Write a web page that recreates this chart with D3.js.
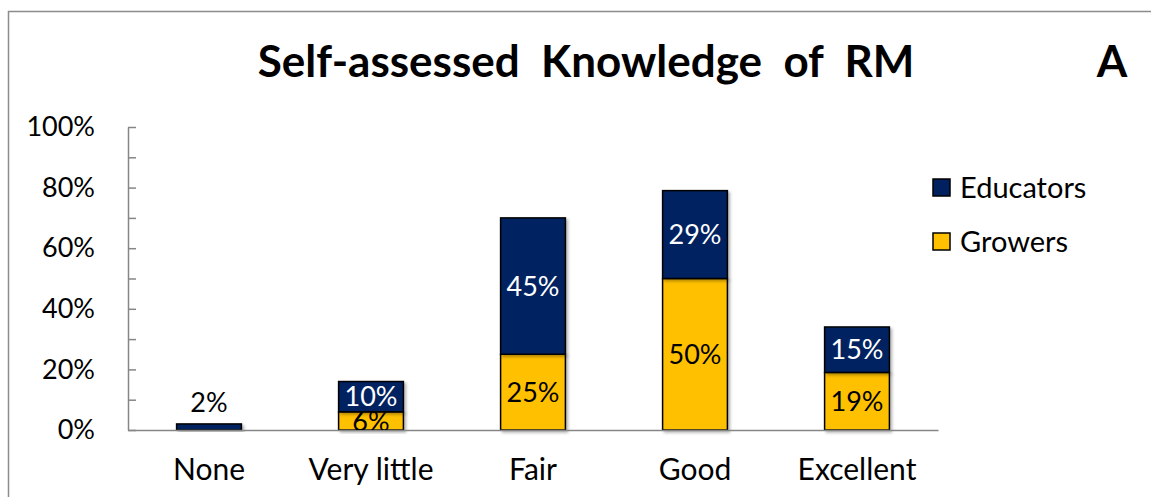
<!DOCTYPE html>
<html>
<head>
<meta charset="utf-8">
<script src="https://cdn.jsdelivr.net/npm/d3@7"></script>
<style>
  body { margin: 0; background: #fff; }
  svg text { font-family: Lato, "Open Sans", sans-serif; }
</style>
</head>
<body>
<div class="render"></div>
<script>
"use strict";

var categories = ["None", "Very little", "Fair", "Good", "Excellent"];
var growers = [0, 0.06, 0.25, 0.50, 0.19];
var educators = [0.02, 0.10, 0.45, 0.29, 0.15];
var seriesNames = ["Educators", "Growers"];
var yTickValues = [0, 0.2, 0.4, 0.6, 0.8, 1.0];
var yTickLabels = ["0%", "20%", "40%", "60%", "80%", "100%"];
var minorTickValues = [0, 0.1, 0.2, 0.3, 0.4, 0.5, 0.6, 0.7, 0.8, 0.9, 1.0];

var w = 1151;
var h = 497;
var navy = "#002060";
var gold = "#FFC000";

var rows = categories.map(function (c, i) {
   return { cat: c, growers: growers[i], educators: educators[i] };
});

var svg = d3.select(".render").append("svg").attr("width", w).attr("height", h);

var defs = svg.append("defs");
var sh = defs.append("filter").attr("id", "shadow").attr("x", "-20%").attr("y", "-20%").attr("width", "140%").attr("height", "140%");
sh.append("feDropShadow").attr("dx", 2).attr("dy", 2).attr("stdDeviation", 1.5).attr("flood-color", "#000").attr("flood-opacity", 0.3);
defs.append("clipPath").attr("id", "plotclip").append("rect").attr("x", 128).attr("y", 100).attr("width", 810).attr("height", 330);

// outer chart border
svg.append("rect").attr("x", 8.5).attr("y", 11.5).attr("width", 1300).attr("height", 700)
   .attr("fill", "none").attr("stroke", "#8c8c8c").attr("stroke-width", 1.5);

var xScale = d3.scaleBand().domain(categories).range([128, 938]).paddingInner(0.6).paddingOuter(0.3);
var yScale = d3.scaleLinear().domain([0, 1]).range([430, 127]);

var stack = d3.stack().keys(["growers", "educators"]);
var layers = stack(rows);
var colors = { growers: gold, educators: navy };
var textColors = { growers: "#000", educators: "#fff" };

// y axis: minor ticks inward, labels at every 20%
svg.append("g").attr("transform", "translate(128,0)")
   .call(d3.axisLeft(yScale).tickValues(minorTickValues).tickSizeInner(-8).tickSizeOuter(0).tickFormat(""))
   .call(function (g) {
      g.selectAll("line").attr("stroke", "#868686").attr("stroke-width", 1.5);
      g.select(".domain").attr("stroke", "#868686").attr("stroke-width", 1.5);
   });
svg.append("g").attr("transform", "translate(128,0)")
   .call(d3.axisLeft(yScale).tickValues(yTickValues).tickSize(0).tickPadding(33)
      .tickFormat(function (d, i) { return yTickLabels[i]; }))
   .call(function (g) {
      g.select(".domain").remove();
      g.selectAll("text").style("font-size", "27px").style("font-family", "Lato, sans-serif").attr("fill", "#000");
   });

// bars
layers.forEach(function (layer) {
   svg.append("g").selectAll("rect").data(layer.filter(function (d) { return d[1] - d[0] > 0; })).enter().append("rect")
      .attr("x", function (d) { return xScale(d.data.cat); })
      .attr("y", function (d) { return yScale(d[1]); })
      .attr("width", xScale.bandwidth())
      .attr("height", function (d) { return yScale(d[0]) - yScale(d[1]); })
      .attr("fill", colors[layer.key])
      .attr("stroke", "#000").attr("stroke-width", 1.5)
      .attr("filter", "url(#shadow)");
});

// x axis line
svg.append("g").attr("transform", "translate(0,430)")
   .call(d3.axisBottom(xScale).tickSize(0).tickSizeOuter(0).tickPadding(29))
   .call(function (g) {
      g.select(".domain").attr("stroke", "#868686").attr("stroke-width", 1.5);
      g.selectAll("text").style("font-size", "30px").style("font-family", "Lato, sans-serif").attr("fill", "#000");
   });

// data labels
var lbl = svg.append("g").attr("clip-path", "url(#plotclip)");
layers.forEach(function (layer) {
   layer.forEach(function (d) {
      var v = d[1] - d[0];
      if (v <= 0) return;
      var cx = xScale(d.data.cat) + xScale.bandwidth() / 2;
      var hgt = yScale(d[0]) - yScale(d[1]);
      var t = lbl.append("text").attr("x", cx).attr("text-anchor", "middle")
         .style("font-size", "27px").text(Math.round(v * 100) + "%");
      if (hgt < 10) {
         t.attr("y", yScale(d[1]) - 12).attr("fill", "#000");
      } else {
         t.attr("y", (yScale(d[0]) + yScale(d[1])) / 2).attr("dy", "0.36em").attr("fill", textColors[layer.key]);
      }
   });
});

// title
svg.append("text").attr("x", 586).attr("y", 77).attr("text-anchor", "middle")
   .style("font-size", "44px").style("font-weight", "bold").style("white-space", "pre")
   .text("Self-assessed  Knowledge  of  RM");
svg.append("text").attr("x", 1112).attr("y", 77).attr("text-anchor", "middle")
   .style("font-size", "44px").style("font-weight", "bold").text("A");

// legend
var legend = svg.append("g").selectAll("g").data(seriesNames).enter().append("g")
   .attr("transform", function (d, i) { return "translate(933," + (179 + i * 54) + ")"; });
legend.append("rect").attr("width", 17).attr("height", 17)
   .attr("fill", function (d) { return d === "Educators" ? navy : gold; })
   .attr("stroke", "#000").attr("stroke-width", 1.5);
legend.append("text").attr("x", 27).attr("y", 8.5).attr("dy", "0.36em")
   .style("font-size", "29px").text(function (d) { return d; });
</script>
</body>
</html>
